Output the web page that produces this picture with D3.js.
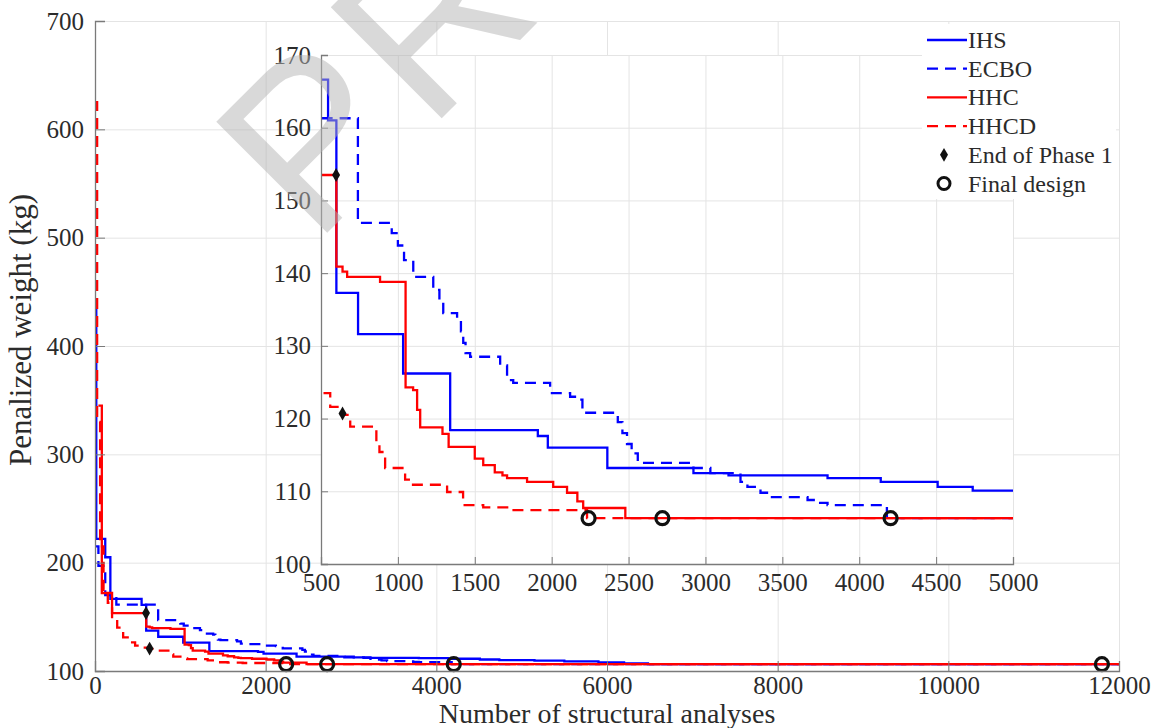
<!DOCTYPE html>
<html lang="en">
<head>
<meta charset="UTF-8">
<script src="https://cdnjs.cloudflare.com/ajax/libs/d3/7.9.0/d3.min.js"></script>
<title>Convergence history</title>
<style>
  body { margin: 0; background: #fff; }
  svg { display: block; }
</style>
</head>
<body>
<div id="chart"></div>
<script>
// ---- data, step-after: weight holds from eval i to eval i+1
const ihsEvals   = [0, 15, 120, 180, 546, 600, 741, 1034, 1340, 1910, 1975, 2362, 2922, 3150, 3794, 4140, 4510, 4738, 5150, 5500, 5900, 6200, 6480, 12000];
const ihsWeight  = [440, 222, 205, 166.6, 161, 137.3, 131.6, 126.2, 118.4, 117.6, 116.0, 113.2, 112.5, 112.2, 111.8, 111.3, 110.6, 110.1, 109.6, 108.8, 107.9, 107.1, 106.3, 106.3];

const ecboEvals  = [0, 40, 120, 250, 740, 960, 1000, 1040, 1100, 1230, 1270, 1295, 1385, 1410, 1425, 1440, 1470, 1665, 1710, 1750, 1990, 2120, 2166, 2200, 2430, 2460, 2490, 2520, 2560, 2922, 3032, 3228, 3273, 3358, 3423, 3664, 3729, 3794, 4180, 12000];
const ecboWeight = [215, 197, 170, 161.3, 146.9, 145.5, 143.8, 141.8, 139.5, 137.7, 136, 134.5, 133.5, 132, 130.4, 129, 128.5, 127.3, 125.3, 124.9, 123.5, 123, 122.6, 120.8, 119.5, 118, 116.5, 115.2, 113.9, 113.2, 112.5, 111.3, 110.6, 109.8, 109.2, 108.8, 108.4, 108.1, 106.3, 106.3];

const hhcEvals   = [40, 80, 200, 600, 640, 670, 884, 1050, 1099, 1125, 1145, 1290, 1330, 1500, 1555, 1630, 1680, 1710, 1840, 2010, 2100, 2167, 2205, 2479, 12000];
const hhcWeight  = [345, 172, 153.5, 140.9, 140.2, 139.5, 138.8, 124.3, 123.9, 121.2, 118.8, 117.9, 116.1, 114.5, 113.6, 112.6, 112.2, 111.8, 111.3, 110.6, 109.8, 108.6, 107.7, 106.3, 106.3];

const hhcdEvals  = [0, 25, 60, 100, 150, 200, 260, 330, 400, 470, 560, 640, 690, 860, 880, 917, 1047, 1080, 1320, 1424, 1555, 1730, 2230, 12000];
const hhcdWeight = [625, 330, 215, 175, 163, 148, 140, 131, 126.5, 123.5, 121.6, 120.5, 118.9, 116.4, 115.4, 113.2, 111.6, 110.9, 109.9, 108.1, 107.8, 107.4, 106.3, 106.3];

const phase1Evals  = [598, 640];
const phase1Weight = [153.5, 120.7];
const finalEvals   = [2240, 2720, 4204, 11800];
const finalWeight  = [106.3, 106.3, 106.3, 106.3];

const seriesNames = ['IHS', 'ECBO', 'HHC', 'HHCD'];
const markerNames = ['End of Phase 1', 'Final design'];

const mainXTicks  = [0, 2000, 4000, 6000, 8000, 10000, 12000];
const mainYTicks  = [100, 200, 300, 400, 500, 600, 700];
const insetXTicks = [500, 1000, 1500, 2000, 2500, 3000, 3500, 4000, 4500, 5000];
const insetYTicks = [100, 110, 120, 130, 140, 150, 160, 170];

// ---- layout
const width = 1158, height = 728;
const main  = { left: 95, right: 1119, top: 21, bottom: 671 };
const inset = { left: 321, right: 1013, top: 55, bottom: 564 };
const serif = '"Liberation Serif", "Times New Roman", serif';
const blue = '#0000ff', red = '#ff0000';
const textColor = '#2b2b2b', axisColor = '#7a7a7a', gridColor = '#e4e4e4';

const series = [
  { name: seriesNames[0], xs: ihsEvals,  ys: ihsWeight,  color: blue, dash: null },
  { name: seriesNames[1], xs: ecboEvals, ys: ecboWeight, color: blue, dash: '11,7' },
  { name: seriesNames[2], xs: hhcEvals,  ys: hhcWeight,  color: red,  dash: null },
  { name: seriesNames[3], xs: hhcdEvals, ys: hhcdWeight, color: red,  dash: '11,7' }
];

const svg = d3.select('#chart').append('svg')
  .attr('width', width)
  .attr('height', height);

const defs = svg.append('defs');
defs.append('clipPath').attr('id', 'clip-main').append('rect')
  .attr('x', main.left).attr('y', main.top)
  .attr('width', main.right - main.left).attr('height', main.bottom - main.top);
defs.append('clipPath').attr('id', 'clip-inset').append('rect')
  .attr('x', inset.left).attr('y', inset.top)
  .attr('width', inset.right - inset.left).attr('height', inset.bottom - inset.top);

const diamond = d3.symbol().type(d3.symbolDiamond).size(55);

function drawPanel(box, xDomain, yDomain, xTicks, yTicks, clipId, opts) {
  const x = d3.scaleLinear().domain(xDomain).range([box.left, box.right]);
  const y = d3.scaleLinear().domain(yDomain).range([box.bottom, box.top]);
  const g = svg.append('g');

  if (opts.background) {
    g.append('rect')
      .attr('x', box.left).attr('y', box.top)
      .attr('width', box.right - box.left).attr('height', box.bottom - box.top)
      .attr('fill', '#fff');
  }

  // grid
  g.append('g')
    .attr('transform', `translate(0,${box.bottom})`)
    .call(d3.axisBottom(x).tickValues(xTicks).tickSize(-(box.bottom - box.top)).tickFormat(''))
    .call(a => a.select('.domain').remove())
    .call(a => a.selectAll('line').attr('stroke', gridColor));
  g.append('g')
    .attr('transform', `translate(${box.left},0)`)
    .call(d3.axisLeft(y).tickValues(yTicks).tickSize(-(box.right - box.left)).tickFormat(''))
    .call(a => a.select('.domain').remove())
    .call(a => a.selectAll('line').attr('stroke', gridColor));

  // convergence curves
  const lines = g.append('g').attr('clip-path', `url(#${clipId})`);
  series.forEach(s => {
    const pts = s.xs.map((v, i) => [v, s.ys[i]]);
    lines.append('path')
      .datum(pts)
      .attr('fill', 'none')
      .attr('stroke', s.color)
      .attr('stroke-width', 2.3)
      .attr('stroke-dasharray', s.dash)
      .attr('d', d3.line().x(d => x(d[0])).y(d => y(d[1])).curve(d3.curveStepAfter));
  });

  // markers
  const inRange = (v, w) => v >= xDomain[0] && v <= xDomain[1] && w >= yDomain[0] && w <= yDomain[1];
  g.selectAll('.p1')
    .data(phase1Evals.map((v, i) => [v, phase1Weight[i]]).filter(d => inRange(d[0], d[1])))
    .join('path')
    .attr('transform', d => `translate(${x(d[0])},${y(d[1])})`)
    .attr('d', diamond)
    .attr('fill', '#111');
  g.selectAll('.fin')
    .data(finalEvals.map((v, i) => [v, finalWeight[i]]).filter(d => inRange(d[0], d[1])))
    .join('circle')
    .attr('cx', d => x(d[0]))
    .attr('cy', d => y(d[1]))
    .attr('r', 6.5)
    .attr('fill', 'none')
    .attr('stroke', '#111')
    .attr('stroke-width', 3.2);

  // axes, ticks pointing inward
  const xAxis = g.append('g')
    .attr('transform', `translate(0,${box.bottom})`)
    .call(d3.axisBottom(x).tickValues(xTicks).tickSize(-opts.tick).tickPadding(opts.xPad).tickFormat(d3.format('d')));
  const yAxis = g.append('g')
    .attr('transform', `translate(${box.left},0)`)
    .call(d3.axisLeft(y).tickValues(yTicks).tickSize(-opts.tick).tickPadding(opts.yPad).tickFormat(d3.format('d')));
  [xAxis, yAxis].forEach(a => {
    a.attr('font-family', serif).attr('font-size', 25);
    a.select('.domain').attr('stroke', axisColor).attr('stroke-width', 1.3);
    a.selectAll('line').attr('stroke', axisColor);
    a.selectAll('text').attr('fill', textColor);
  });
  return { x, y };
}

drawPanel(main, [0, 12000], [100, 700], mainXTicks, mainYTicks, 'clip-main',
  { background: false, tick: 10, xPad: 5, yPad: 11 });
drawPanel(inset, [500, 5000], [100, 170], insetXTicks, insetYTicks, 'clip-inset',
  { background: true, tick: 7, xPad: 9, yPad: 10 });

// axis labels
svg.append('text')
  .attr('x', (main.left + main.right) / 2)
  .attr('y', 723)
  .attr('text-anchor', 'middle')
  .attr('font-family', serif)
  .attr('font-size', 28)
  .attr('fill', textColor)
  .text('Number of structural analyses');
svg.append('text')
  .attr('transform', 'translate(31,330) rotate(-90)')
  .attr('text-anchor', 'middle')
  .attr('font-family', serif)
  .attr('font-size', 31)
  .attr('fill', textColor)
  .text('Penalized weight (kg)');

// legend
const legend = svg.append('g').attr('transform', 'translate(922,24)');
legend.append('rect')
  .attr('width', 194).attr('height', 175)
  .attr('fill', '#fff');
const rowH = 28.7;
const legendItems = series.map(s => ({ label: s.name, kind: 'line', s }))
  .concat(markerNames.map((m, i) => ({ label: m, kind: i === 0 ? 'diamond' : 'circle' })));
legendItems.forEach((d, i) => {
  const cy = 16 + i * rowH;
  const row = legend.append('g').attr('transform', `translate(0,${cy})`);
  if (d.kind === 'line') {
    row.append('line')
      .attr('x1', 5).attr('x2', 45)
      .attr('stroke', d.s.color).attr('stroke-width', 2.3)
      .attr('stroke-dasharray', d.s.dash);
  } else if (d.kind === 'diamond') {
    row.append('path').attr('transform', 'translate(22,0)').attr('d', diamond).attr('fill', '#111');
  } else {
    row.append('circle').attr('cx', 22).attr('r', 6).attr('fill', 'none')
      .attr('stroke', '#111').attr('stroke-width', 3);
  }
  row.append('text')
    .attr('x', 46)
    .attr('y', 8)
    .attr('font-family', serif)
    .attr('font-size', 24)
    .attr('fill', textColor)
    .text(d.label);
});

// watermark
svg.append('text')
  .attr('transform', 'translate(314,246) rotate(-45)')
  .attr('font-family', '"Liberation Sans", Arial, sans-serif')
  .attr('font-size', 228)
  .attr('letter-spacing', 10)
  .attr('fill', '#b4b4b4')
  .attr('opacity', 0.5)
  .text('PREVIEW');
</script>
</body>
</html>
